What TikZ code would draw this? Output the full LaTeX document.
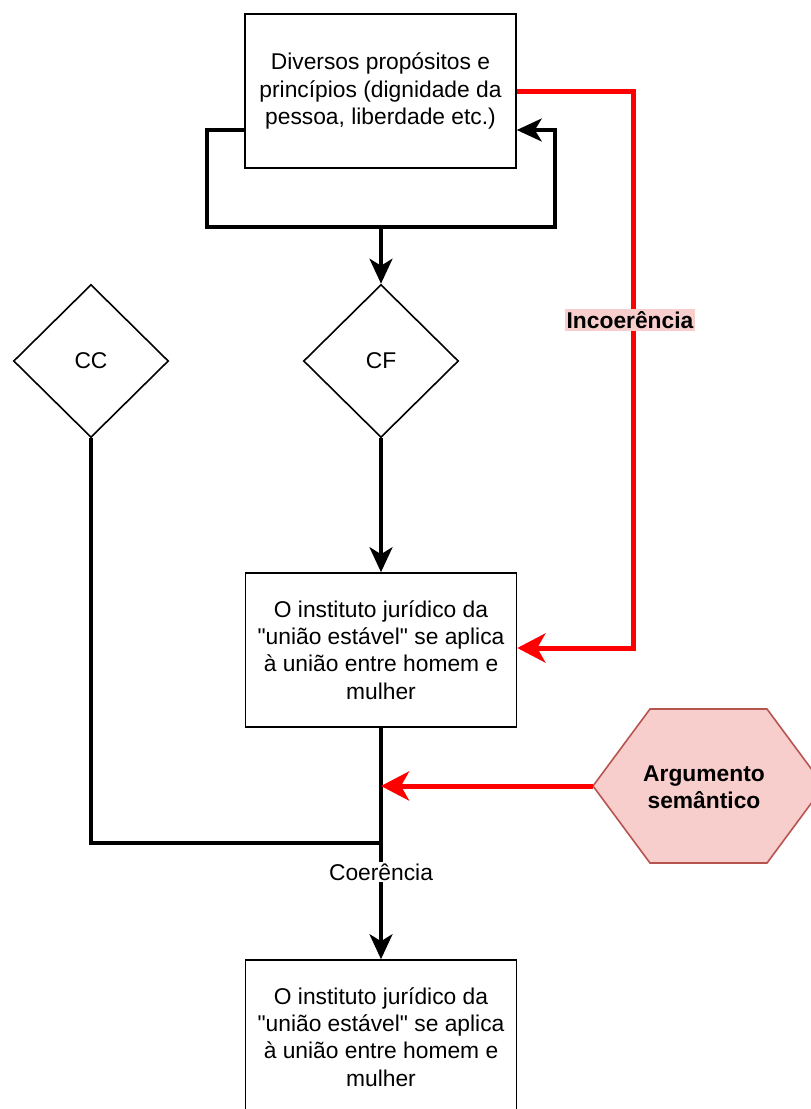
\documentclass[tikz,border=0pt]{standalone}
\usepackage{fontspec}
\setmainfont{Liberation Sans}[Ligatures=TeXOff]
\usetikzlibrary{shapes.geometric,arrows.meta}
\definecolor{pinkfill}{HTML}{F8CECC}
\definecolor{pinkline}{HTML}{B85450}
\definecolor{redline}{HTML}{FF0000}
\begin{document}
\begin{tikzpicture}[x=1pt,y=-1pt,
  every node/.style={font=\fontsize{22.8}{27.2}\selectfont},
  box/.style={draw=black,line width=1.6pt,fill=white,minimum width=271pt,minimum height=154pt,align=center,inner sep=0pt},
  decision/.style={diamond,draw=black,line width=1.6pt,fill=white,minimum width=155pt,minimum height=153pt,inner sep=0pt,aspect=1},
  conn/.style={line width=3.4pt,draw=black},
  blackarrow/.style={-{Stealth[length=25pt,width=23pt,inset=7pt]}},
  redconn/.style={line width=5pt,draw=redline},
  redarrow/.style={-{Stealth[length=28pt,width=29pt,inset=8pt]}},
  edgelabel/.style={fill=white,inner sep=2pt}
]
\useasboundingbox (0,0) rectangle (811,1109);
\clip (0,0) rectangle (811,1109);

% connection points
\coordinate (loopL) at (207,130);
\coordinate (loopB) at (381,227);
\coordinate (loopR) at (555,130);
\coordinate (redC) at (633,648);
\coordinate (hitA) at (381,786);
\coordinate (join) at (381,843);
\coordinate (hexL) at (593,786);

% boxes and decisions
\node[box] (top) at (380.5,91) {Diversos propósitos e\\princípios (dignidade da\\pessoa, liberdade etc.)};
\node[decision] (cf) at (381,361) {CF};
\node[decision] (cc) at (91,361) {CC};
\node[box] (mid) at (381,650) {O instituto jurídico da\\"união estável" se aplica\\à união entre homem e\\mulher};
\node[box] (bot) at (381,1037) {O instituto jurídico da\\"união estável" se aplica\\à união entre homem e\\mulher};

% hexagon
\draw[line width=1.6pt,draw=pinkline,fill=pinkfill]
  (hexL) -- (650,709) -- (767,709) -- (824,786) -- (767,863) -- (650,863) -- cycle;
\node[font=\fontsize{22.8}{27.2}\selectfont\bfseries,align=center] (hex) at (704,787) {Argumento\\semântico};

% loop around the top box
\draw[conn,blackarrow,line join=miter] (top.west |- loopL) -- (loopL) |- (loopB) -| (loopR) -- (top.east |- loopR);
\draw[conn,blackarrow] (loopB) -- (cf.north);

% main flow
\draw[conn,blackarrow] (cf.south) -- (mid.north);
\draw[conn] (cc.south) |- (join);
\draw[conn,blackarrow] (mid.south) -- (bot.north);
\node[edgelabel] (coer) at (381,872) {Coerência};

% red connectors
\draw[redconn,redarrow,line join=miter] (top.east) -| (redC) -- (mid.east |- redC);
\node[fill=pinkfill,inner sep=2pt,font=\fontsize{22.8}{27.2}\selectfont\bfseries] (incoer) at (630,320) {Incoerência};
\draw[redconn,redarrow] (hexL) -- (hitA);
\end{tikzpicture}
\end{document}
